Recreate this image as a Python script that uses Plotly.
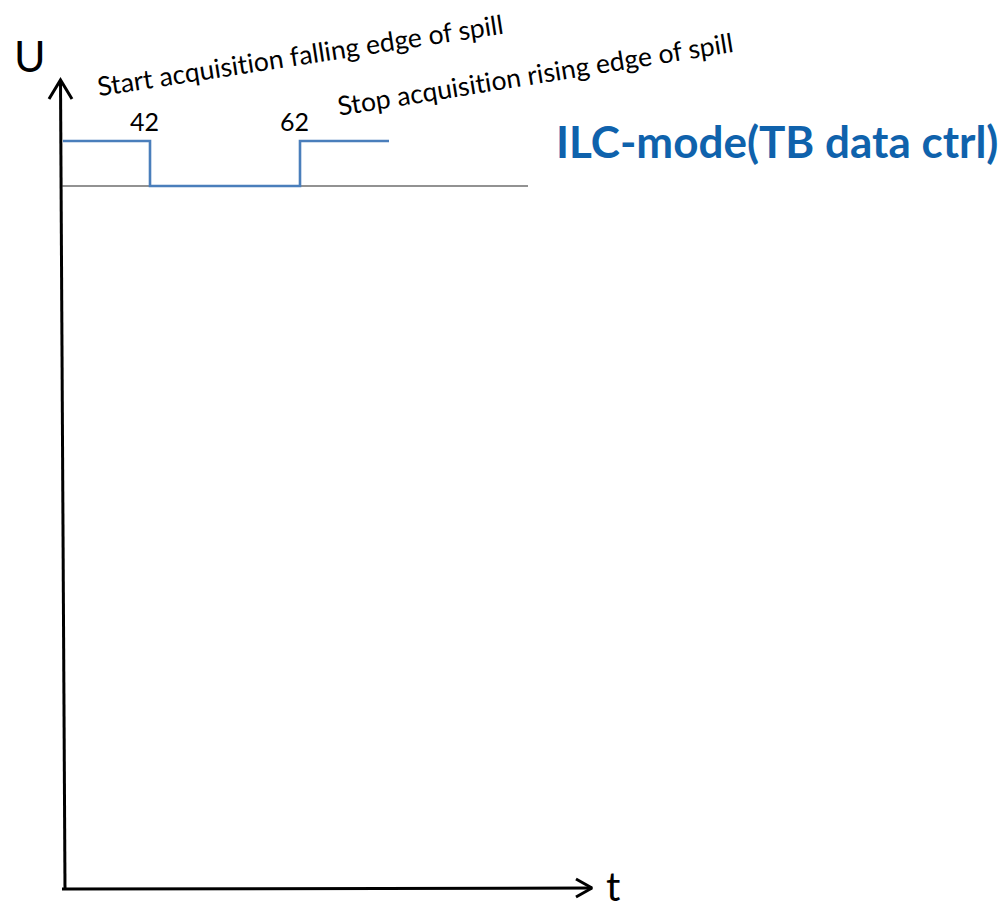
import plotly.graph_objects as go

# ---- data (diagram units: t along time axis, u = signal level) ----
signal_t = [0, 87, 87, 237, 237, 326]
signal_u = [1, 1, 0, 0, 1, 1]
edge_labels = ["42", "62"]
edge_t = [87, 237]
baseline_t = [-1, 465]
baseline_u = [0, 0]
start_text = "Start acquisition falling edge of spill"
stop_text = "Stop acquisition rising edge of spill"
title_text = "ILC-mode(TB data ctrl)"

# scale: 1 t-unit = 1 px, 1 u-unit = 45 px ; origin of signal baseline at px (63, 186)
X0, Y0, UPX = 63.0, 186.0, 45.0
OFF = 8.0  # page body margin
def tx(px):
    return px - X0
def uy(py):
    return (Y0 - py) / UPX

def noliga(s):
    return '<span style="letter-spacing:0.02px">' + s + '</span>'

BLUE = "#4A7EBB"
FONT = "Lato, Carlito, 'Open Sans', sans-serif"

fig = go.Figure()

# axes (decoration)
fig.add_trace(go.Scatter(x=[tx(65), tx(60.5)], y=[uy(889), uy(81)], mode="lines",
                         line=dict(color="black", width=3), hoverinfo="skip"))
fig.add_trace(go.Scatter(x=[tx(49), tx(60.5), tx(72)], y=[uy(99), uy(80), uy(99)], mode="lines",
                         line=dict(color="black", width=3), hoverinfo="skip"))
fig.add_trace(go.Scatter(x=[tx(62), tx(592)], y=[uy(889), uy(888)], mode="lines",
                         line=dict(color="black", width=3), hoverinfo="skip"))
fig.add_trace(go.Scatter(x=[tx(576), tx(592), tx(576)], y=[uy(879), uy(888), uy(897)], mode="lines",
                         line=dict(color="black", width=3), hoverinfo="skip"))

# baseline
fig.add_trace(go.Scatter(x=baseline_t, y=baseline_u, mode="lines",
                         line=dict(color="#262626", width=1.2), hoverinfo="skip"))
# signal
fig.add_trace(go.Scatter(x=signal_t, y=signal_u, mode="lines",
                         line=dict(color=BLUE, width=2.6), hoverinfo="skip"))

ann = []
for lab, t in zip(edge_labels, edge_t):
    ann.append(dict(x=t + (144 - 150), y=uy(121), text=lab, showarrow=False,
                    font=dict(family=FONT, size=25, color="black"), xanchor="center", yanchor="middle"))
ann.append(dict(x=tx(300), y=uy(55), text=noliga(start_text), textangle=-8.8, showarrow=False,
                font=dict(family=FONT, size=26.5, color="black"), xanchor="center", yanchor="middle"))
ann.append(dict(x=tx(535), y=uy(74), text=noliga(stop_text), textangle=-9.2, showarrow=False,
                font=dict(family=FONT, size=26.5, color="black"), xanchor="center", yanchor="middle"))
ann.append(dict(x=tx(777), y=uy(141), text="<b>" + title_text + "</b>", showarrow=False,
                font=dict(family=FONT, size=44, color="#0F62AC"), xanchor="center", yanchor="middle"))
ann.append(dict(x=tx(30), y=uy(55), text="U", showarrow=False,
                font=dict(family=FONT, size=43, color="black"), xanchor="center", yanchor="middle"))
ann.append(dict(x=tx(613), y=uy(886), text="t", showarrow=False,
                font=dict(family=FONT, size=40, color="black"), xanchor="center", yanchor="middle"))

fig.update_layout(
    width=1008, height=906,
    margin=dict(l=0, r=0, t=0, b=0),
    paper_bgcolor="white", plot_bgcolor="white",
    showlegend=False,
    annotations=ann,
    xaxis=dict(range=[tx(OFF), tx(1008 + OFF)], visible=False, fixedrange=True),
    yaxis=dict(range=[uy(906 + OFF), uy(OFF)], visible=False, fixedrange=True),
)

fig.write_html("out.html", config={"displayModeBar": False})
